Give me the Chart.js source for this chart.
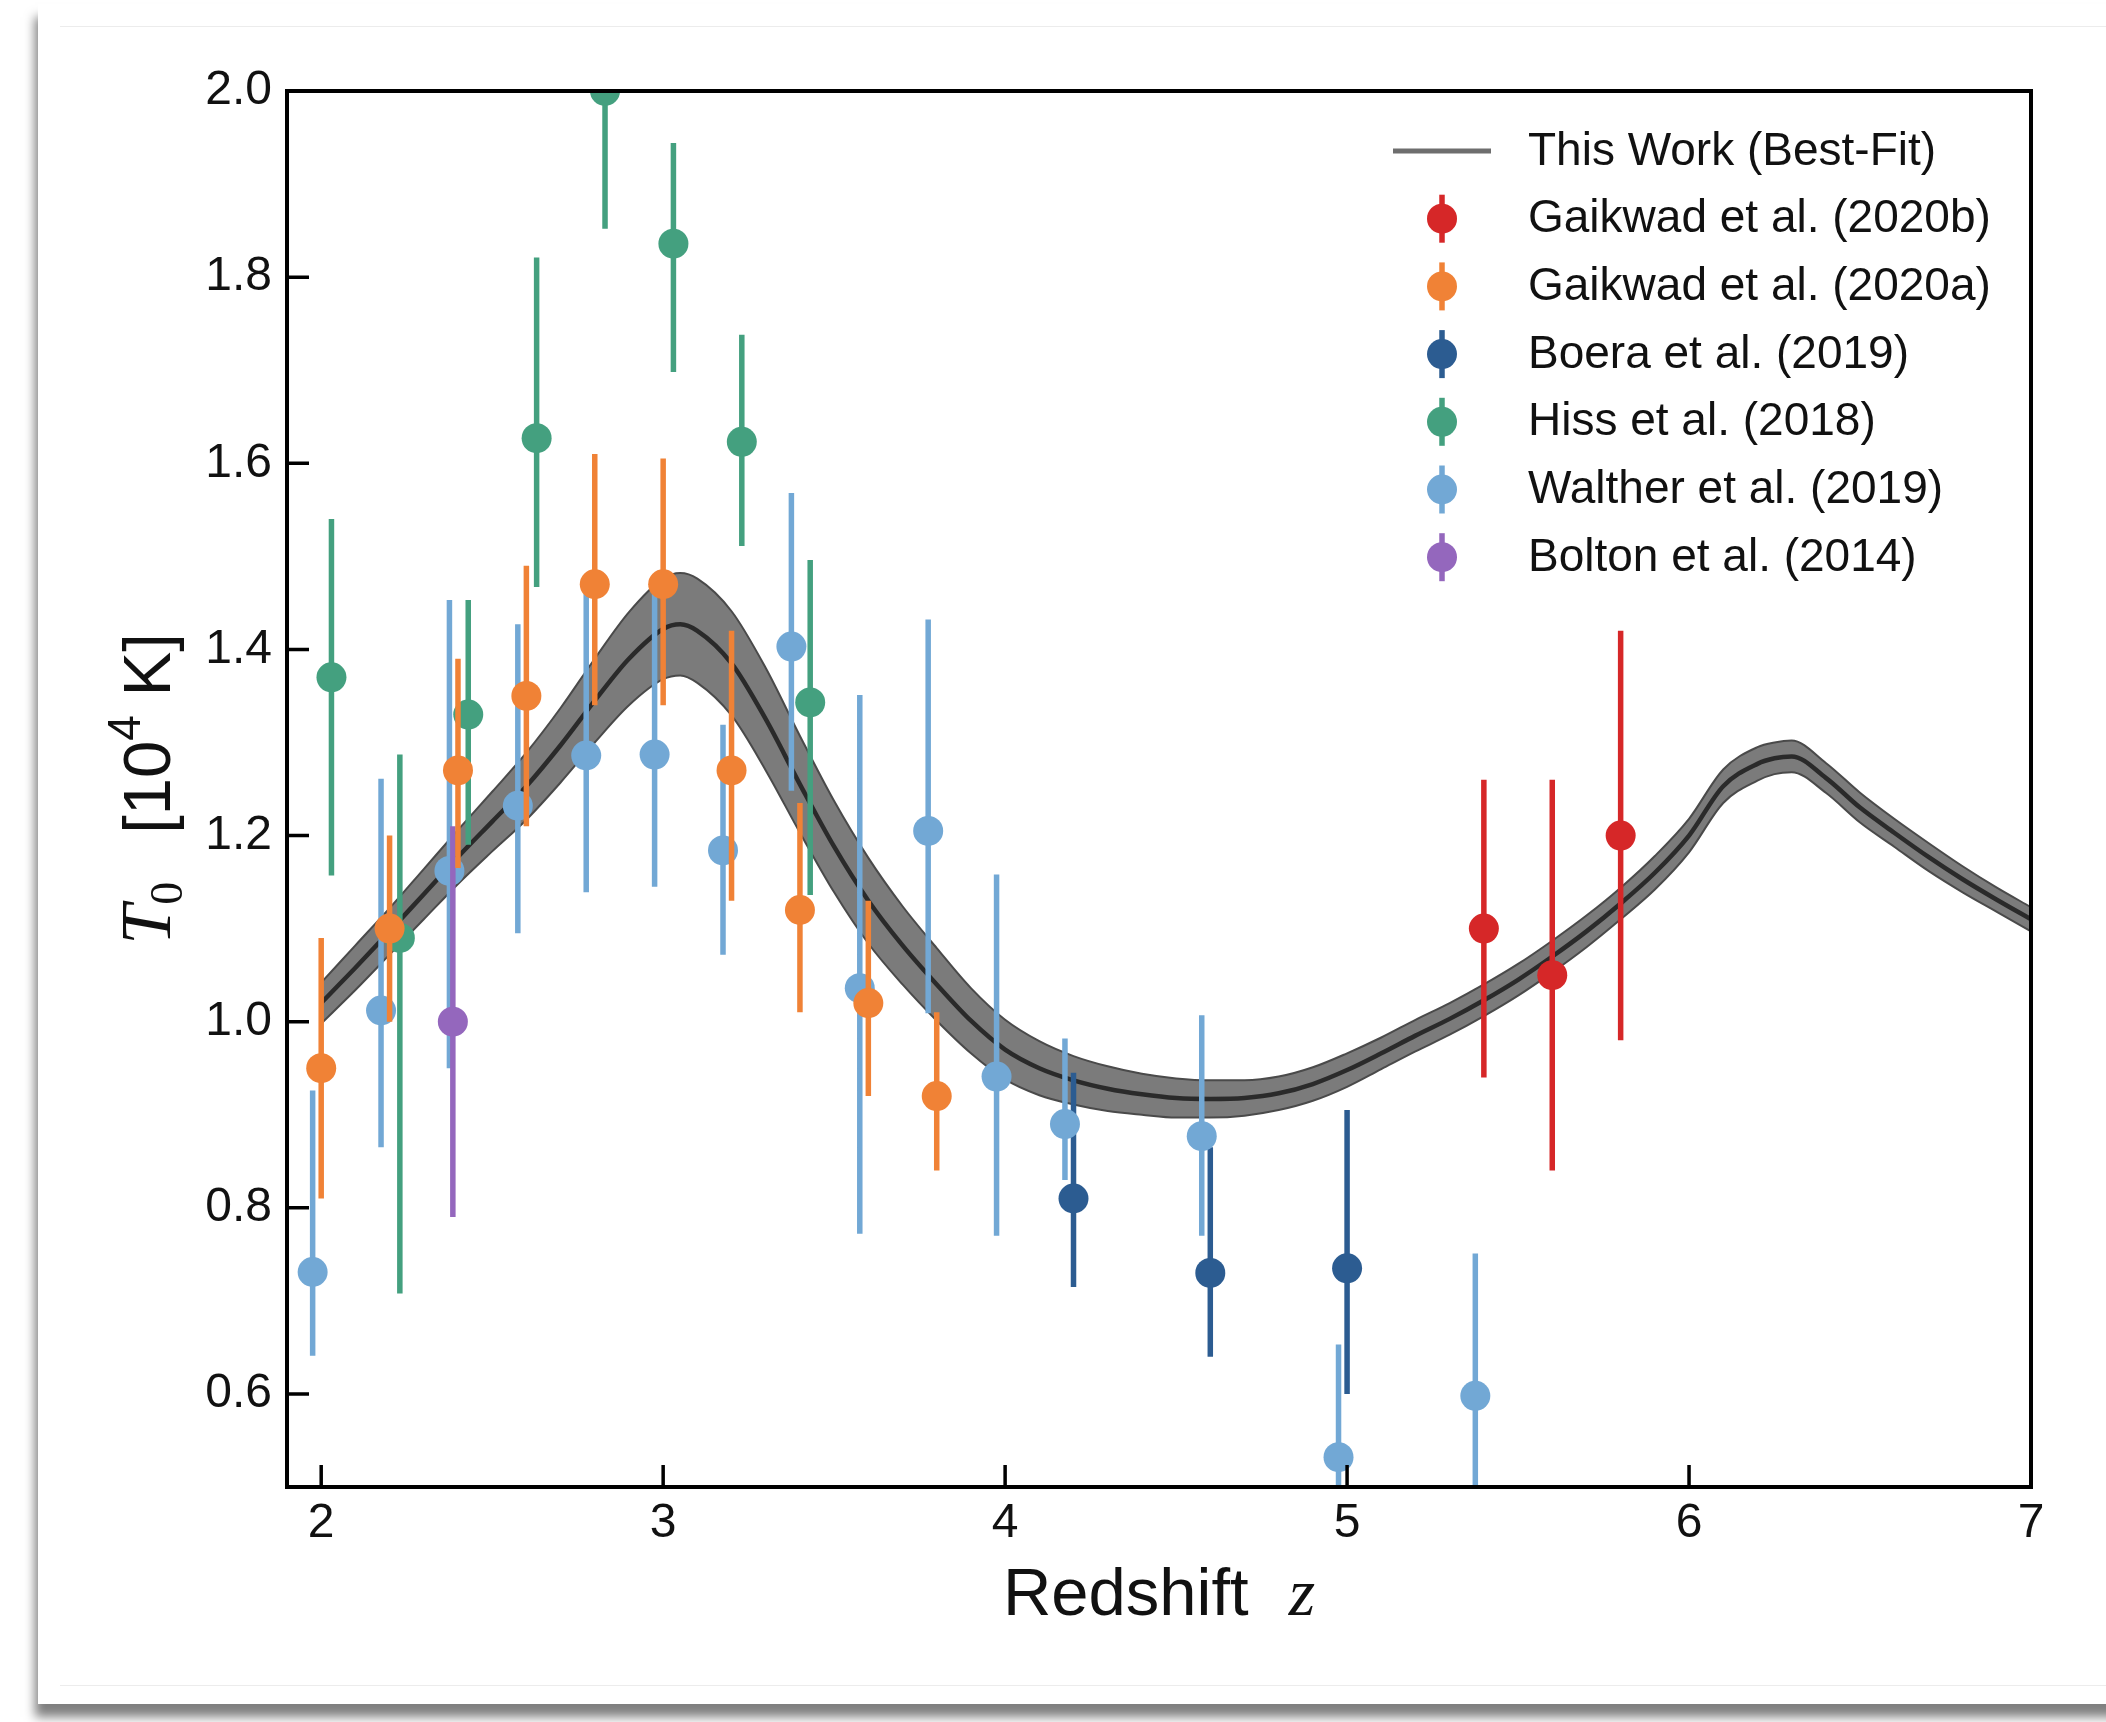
<!DOCTYPE html>
<html>
<head>
<meta charset="utf-8">
<script src="https://cdn.jsdelivr.net/npm/chart.js@4.4.1/dist/chart.umd.min.js"></script>
<style>
  body { margin: 0; background: #fff; width: 2106px; height: 1722px; overflow: hidden; position: relative; }
  #card { position: absolute; left: 38px; top: 4px; width: 2100px; height: 1700px; background: #fff;
          box-shadow: -3px 13px 10px rgba(0,0,0,0.5); }
  #inner { position: absolute; left: 60px; top: 26px; right: 0; height: 1658px;
           border-top: 1px solid #ececec; border-bottom: 1px solid #ececec; }
  #plot { position: absolute; left: 0; top: 0; }
</style>
</head>
<body>
<div id="card"></div>
<div id="inner"></div>
<canvas id="plot" width="2106" height="1722"></canvas>
<script>
// axis ticks
const xTicks = [2, 3, 4, 5, 6, 7];
const yTicks = [0.6, 0.8, 1.0, 1.2, 1.4, 1.6, 1.8, 2.0];

// best-fit model (centre line and band edges)
const modelZ  = [2.0, 2.1, 2.2, 2.3, 2.4, 2.5, 2.6, 2.7, 2.8, 2.9, 3.0, 3.05, 3.1, 3.2, 3.3, 3.4, 3.5, 3.6, 3.7, 3.8, 3.9,
                 4.0, 4.1, 4.2, 4.3, 4.4, 4.5, 4.6, 4.7, 4.8, 4.9, 5.0, 5.1, 5.2, 5.3, 5.4, 5.5, 5.6, 5.7, 5.8, 5.9,
                 6.0, 6.1, 6.2, 6.25, 6.3, 6.4, 6.5, 6.6, 6.7, 6.8, 6.9, 7.0];
const modelT  = [1.020, 1.058, 1.097, 1.137, 1.177, 1.215, 1.253, 1.297, 1.345, 1.390, 1.422, 1.427, 1.420, 1.385, 1.325, 1.255, 1.188, 1.130, 1.082, 1.040, 1.001,
                 0.970, 0.950, 0.937, 0.928, 0.922, 0.918, 0.917, 0.918, 0.923, 0.933, 0.948, 0.966, 0.985, 1.003, 1.023, 1.045, 1.070, 1.097, 1.127, 1.160,
                 1.200, 1.253, 1.277, 1.283, 1.285, 1.262, 1.230, 1.203, 1.177, 1.153, 1.131, 1.110];
const modelLo = [0.998, 1.034, 1.072, 1.110, 1.148, 1.183, 1.217, 1.257, 1.300, 1.340, 1.368, 1.372, 1.364, 1.329, 1.270, 1.203, 1.139, 1.084, 1.040, 1.001, 0.966,
                 0.938, 0.921, 0.911, 0.904, 0.900, 0.897, 0.897, 0.899, 0.905, 0.915, 0.930, 0.949, 0.968, 0.986, 1.006, 1.028, 1.053, 1.080, 1.110, 1.142,
                 1.182, 1.235, 1.259, 1.266, 1.268, 1.246, 1.214, 1.188, 1.162, 1.139, 1.118, 1.097];
const modelHi = [1.042, 1.082, 1.122, 1.164, 1.206, 1.247, 1.289, 1.337, 1.390, 1.440, 1.476, 1.482, 1.476, 1.441, 1.380, 1.307, 1.237, 1.176, 1.124, 1.079, 1.036,
                 1.002, 0.979, 0.963, 0.952, 0.944, 0.939, 0.937, 0.937, 0.941, 0.951, 0.966, 0.983, 1.002, 1.020, 1.040, 1.062, 1.087, 1.114, 1.144, 1.178,
                 1.218, 1.271, 1.295, 1.300, 1.302, 1.278, 1.246, 1.218, 1.192, 1.167, 1.144, 1.123];

// measurements: redshift, T0 and the ends of each error bar
const gk20bZ  = [5.4, 5.6, 5.8];
const gk20bT  = [1.10, 1.05, 1.20];
const gk20bLo = [0.94, 0.84, 0.98];
const gk20bHi = [1.26, 1.26, 1.42];

const gk20aZ  = [2.0, 2.2, 2.4, 2.6, 2.8, 3.0, 3.2, 3.4, 3.6, 3.8];
const gk20aT  = [0.95, 1.10, 1.27, 1.35, 1.47, 1.47, 1.27, 1.12, 1.02, 0.92];
const gk20aLo = [0.81, 1.00, 1.165, 1.21, 1.34, 1.34, 1.13, 1.01, 0.92, 0.84];
const gk20aHi = [1.09, 1.20, 1.39, 1.49, 1.61, 1.605, 1.42, 1.235, 1.13, 1.01];

const boeraZ  = [4.2, 4.6, 5.0];
const boeraT  = [0.81, 0.73, 0.735];
const boeraLo = [0.715, 0.64, 0.60];
const boeraHi = [0.945, 0.865, 0.905];

const hissZ  = [2.03, 2.23, 2.43, 2.63, 2.83, 3.03, 3.23, 3.43];
const hissT  = [1.37, 1.09, 1.33, 1.627, 2.0, 1.836, 1.623, 1.343];
const hissLo = [1.157, 0.708, 1.19, 1.467, 1.852, 1.698, 1.511, 1.136];
const hissHi = [1.540, 1.287, 1.453, 1.821, 2.15, 1.944, 1.738, 1.496];

const waltherZ  = [1.975, 2.175, 2.375, 2.575, 2.775, 2.975, 3.175, 3.375, 3.575, 3.775, 3.975, 4.175, 4.575, 4.975, 5.375];
const waltherT  = [0.731, 1.012, 1.162, 1.232, 1.286, 1.287, 1.184, 1.403, 1.036, 1.205, 0.941, 0.890, 0.877, 0.532, 0.598];
const waltherLo = [0.641, 0.865, 0.95, 1.095, 1.139, 1.145, 1.072, 1.248, 0.772, 1.009, 0.770, 0.83, 0.770, 0.41, 0.45];
const waltherHi = [0.926, 1.261, 1.453, 1.427, 1.46, 1.46, 1.319, 1.568, 1.351, 1.432, 1.158, 0.982, 1.007, 0.653, 0.751];

const boltonZ  = [2.385];
const boltonT  = [1.0];
const boltonLo = [0.79];
const boltonHi = [1.21];

const modelLabel = 'This Work (Best-Fit)';
const xTitle = ['Redshift', 'z'];
const yTitle = ['T', '0', '[10', '4', ' K]'];

// legend order, then drawing order below
const series = [
  { label: 'Gaikwad et al. (2020b)', color: '#d62728', z: gk20bZ,   t: gk20bT,   lo: gk20bLo,   hi: gk20bHi,   layer: 5 },
  { label: 'Gaikwad et al. (2020a)', color: '#f08236', z: gk20aZ,   t: gk20aT,   lo: gk20aLo,   hi: gk20aHi,   layer: 4 },
  { label: 'Boera et al. (2019)',    color: '#2c5c91', z: boeraZ,   t: boeraT,   lo: boeraLo,   hi: boeraHi,   layer: 0 },
  { label: 'Hiss et al. (2018)',     color: '#44a07f', z: hissZ,    t: hissT,    lo: hissLo,    hi: hissHi,    layer: 1 },
  { label: 'Walther et al. (2019)',  color: '#72a8d5', z: waltherZ, t: waltherT, lo: waltherLo, hi: waltherHi, layer: 2 },
  { label: 'Bolton et al. (2014)',   color: '#9467bd', z: boltonZ,  t: boltonT,  lo: boltonLo,  hi: boltonHi,  layer: 3 }
];

const SANS = '"Liberation Sans", Arial, Helvetica, sans-serif';
const SERIF = '"Liberation Serif", "Times New Roman", serif';
const INK = '#111';

const datasets = [
  { type: 'line', data: modelZ.map((z, i) => ({ x: z, y: modelHi[i] })), borderColor: '#4a4a4a', borderWidth: 2,
    backgroundColor: '#7b7b7b', fill: '+1', pointRadius: 0, cubicInterpolationMode: 'monotone', clip: 0, order: 100 },
  { type: 'line', data: modelZ.map((z, i) => ({ x: z, y: modelLo[i] })), borderColor: '#4a4a4a', borderWidth: 2,
    fill: false, pointRadius: 0, cubicInterpolationMode: 'monotone', clip: 0, order: 99 },
  { type: 'line', data: modelZ.map((z, i) => ({ x: z, y: modelT[i] })), borderColor: '#2a2a2a', borderWidth: 4.5,
    fill: false, pointRadius: 0, cubicInterpolationMode: 'monotone', clip: 0, order: 98 }
];

series.forEach(s => {
  const bars = [];
  s.z.forEach((z, i) => {
    bars.push({ x: z, y: s.lo[i] }, { x: z, y: s.hi[i] }, { x: z, y: null });
  });
  datasets.push({
    type: 'line', data: bars, borderColor: s.color, borderWidth: 5.5, borderCapStyle: 'butt',
    pointRadius: 0, fill: false, spanGaps: false, tension: 0, clip: 0, order: 90 - 2 * s.layer
  });
  datasets.push({
    type: 'scatter', data: s.z.map((z, i) => ({ x: z, y: s.t[i] })), backgroundColor: s.color,
    pointBackgroundColor: s.color, pointBorderWidth: 0, pointRadius: 15, pointHoverRadius: 15,
    showLine: false, clip: 0, order: 89 - 2 * s.layer
  });
});

// inward ticks and the closed axes box
const axesBox = {
  id: 'axesBox',
  afterDatasetsDraw(chart) {
    const { ctx, chartArea: a, scales: { x, y } } = chart;
    ctx.save();
    ctx.strokeStyle = '#000';
    ctx.lineWidth = 3.5;
    ctx.beginPath();
    xTicks.forEach(v => {
      const px = x.getPixelForValue(v);
      ctx.moveTo(px, a.bottom); ctx.lineTo(px, a.bottom - 22);
    });
    yTicks.forEach(v => {
      const py = y.getPixelForValue(v);
      ctx.moveTo(a.left, py); ctx.lineTo(a.left + 22, py);
    });
    ctx.stroke();
    ctx.lineWidth = 4;
    ctx.strokeRect(a.left, a.top, a.right - a.left, a.bottom - a.top);
    ctx.restore();
  }
};

// axis titles with math italics
const axisTitles = {
  id: 'axisTitles',
  afterDraw(chart) {
    const { ctx, chartArea: a } = chart;
    ctx.save();
    ctx.fillStyle = INK;
    ctx.textBaseline = 'alphabetic';
    ctx.textAlign = 'left';

    const big = '67px ' + SANS;
    const ital = 'italic 68px ' + SERIF;
    ctx.font = big; const w1 = ctx.measureText(xTitle[0]).width;
    ctx.font = ital; const w2 = ctx.measureText(xTitle[1]).width;
    const gap = 40;
    const x0 = (a.left + a.right) / 2 - (w1 + gap + w2) / 2;
    const base = a.bottom + 128;
    ctx.font = big; ctx.fillText(xTitle[0], x0, base);
    ctx.font = ital; ctx.fillText(xTitle[1], x0 + w1 + gap, base);

    const parts = [
      { t: yTitle[0], f: 'italic 72px ' + SERIF, dy: 0, after: 0 },
      { t: yTitle[1], f: '46px ' + SERIF, dy: 12, after: 48 },
      { t: yTitle[2], f: big, dy: 0, after: 0 },
      { t: yTitle[3], f: '46px ' + SANS, dy: -30, after: 0 },
      { t: yTitle[4], f: big, dy: 0, after: 0 }
    ];
    let total = 0;
    parts.forEach(p => { ctx.font = p.f; p.w = ctx.measureText(p.t).width; total += p.w + p.after; });
    ctx.translate(a.left - 117, (a.top + a.bottom) / 2);
    ctx.rotate(-Math.PI / 2);
    let cx = -total / 2;
    parts.forEach(p => {
      ctx.font = p.f;
      ctx.fillText(p.t, cx, p.dy);
      cx += p.w + p.after;
    });
    ctx.restore();
  }
};

// legend without frame, upper right inside the axes
const legendBox = {
  id: 'legendBox',
  afterDraw(chart) {
    const { ctx, chartArea: a } = chart;
    const mx = a.right - 589, tx = a.right - 503;
    const rows = [{ label: modelLabel, line: true }].concat(series.map(s => ({ label: s.label, color: s.color })));
    ctx.save();
    ctx.font = '46px ' + SANS;
    ctx.textBaseline = 'middle';
    ctx.textAlign = 'left';
    rows.forEach((r, i) => {
      const y = a.top + 60 + i * 67.7;
      if (r.line) {
        ctx.strokeStyle = '#6e6e6e';
        ctx.lineWidth = 5;
        ctx.beginPath(); ctx.moveTo(mx - 49, y); ctx.lineTo(mx + 49, y); ctx.stroke();
      } else {
        ctx.strokeStyle = r.color;
        ctx.fillStyle = r.color;
        ctx.lineWidth = 5.5;
        ctx.beginPath(); ctx.moveTo(mx, y - 24); ctx.lineTo(mx, y + 24); ctx.stroke();
        ctx.beginPath(); ctx.arc(mx, y, 15, 0, Math.PI * 2); ctx.fill();
      }
      ctx.fillStyle = INK;
      ctx.fillText(r.label, tx, y + 1);
    });
    ctx.restore();
  }
};

new Chart(document.getElementById('plot'), {
  type: 'scatter',
  data: { datasets },
  plugins: [axesBox, axisTitles, legendBox],
  options: {
    responsive: false,
    animation: false,
    events: [],
    layout: { padding: { left: 0, right: 75, top: 91, bottom: 0 } },
    plugins: { legend: { display: false }, tooltip: { enabled: false } },
    scales: {
      x: {
        type: 'linear', min: 1.9, max: 7,
        grid: { display: false, drawTicks: false },
        border: { display: false },
        ticks: { font: { family: SANS, size: 48 }, color: INK, padding: 8, autoSkip: false, maxRotation: 0,
                 callback: v => String(v) },
        afterBuildTicks: s => { s.ticks = xTicks.map(v => ({ value: v })); },
        afterFit: s => { s.height = 235; }
      },
      y: {
        type: 'linear', min: 0.5, max: 2.0,
        grid: { display: false, drawTicks: false },
        border: { display: false },
        ticks: { font: { family: SANS, size: 48 }, color: INK, padding: 15, autoSkip: false,
                 callback: v => v.toFixed(1) },
        afterBuildTicks: s => { s.ticks = yTicks.map(v => ({ value: v })); },
        afterFit: s => { s.width = 287; }
      }
    }
  }
});
</script>
</body>
</html>
